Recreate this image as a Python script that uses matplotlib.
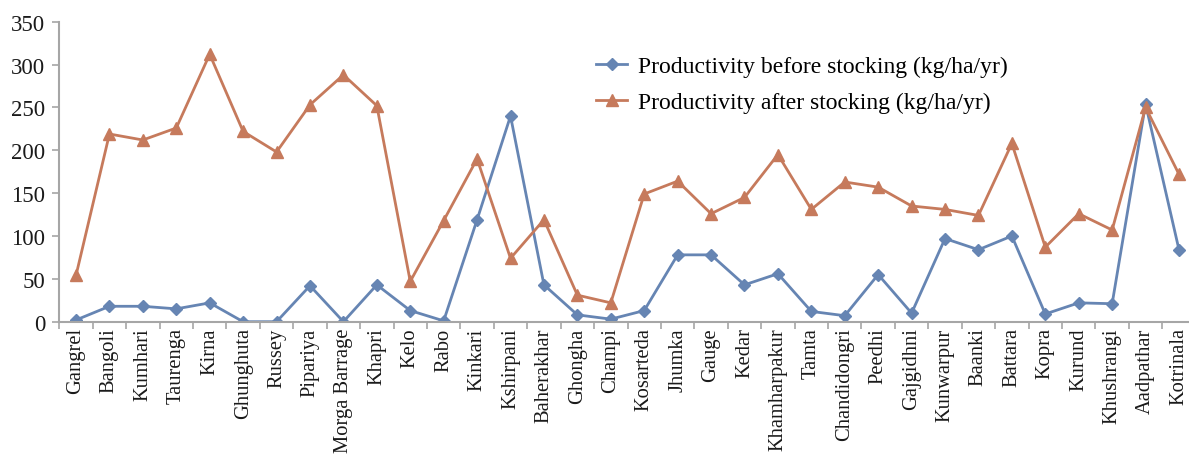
import numpy as np
import matplotlib
matplotlib.use("Agg")
from matplotlib import pyplot as plt

sites = ["Gangrel", "Bangoli", "Kumhari", "Taurenga", "Kirna", "Ghunghuta", "Russey",
         "Pipariya", "Morga Barrage", "Khapri", "Kelo", "Rabo", "Kinkari", "Kshirpani",
         "Baherakhar", "Ghongha", "Champi", "Kosarteda", "Jhumka", "Gauge", "Kedar",
         "Khamharpakur", "Tamta", "Chandidongri", "Peedhi", "Gajgidhni", "Kunwarpur",
         "Baanki", "Battara", "Kopra", "Kurund", "Khushrangi", "Aadpathar", "Kotrinala"]
before = [2, 18, 18, 15, 22, 0, 0, 42, 0, 43, 13, 1, 119, 240, 43, 8, 3, 13, 78, 78,
          43, 56, 12, 7, 55, 10, 97, 84, 100, 9, 22, 21, 254, 84]
after = [54, 219, 212, 226, 312, 222, 198, 253, 288, 252, 47, 118, 190, 74, 119, 31,
         22, 149, 164, 126, 145, 195, 131, 163, 157, 135, 131, 124, 208, 87, 126, 107,
         250, 172]

blue = "#6685B3"
orange = "#C67A5C"
grey = "#A6A6A6"

plt.rcParams["font.family"] = ["Liberation Serif", "DejaVu Serif"]

fig = plt.figure(figsize=(11.89, 4.56), dpi=100)
ax = fig.add_axes([59.3 / 1189, 0.2923, 1136.4 / 1189, 0.6579])

x = np.arange(len(sites))
ax.plot(x, before, color=blue, lw=2.0, marker="D", ms=6, label="Productivity before stocking (kg/ha/yr)")
ax.plot(x, after, color=orange, lw=2.0, marker="^", ms=8, label="Productivity after stocking (kg/ha/yr)")

ax.set_xlim(-0.5, len(sites) - 0.5)
ax.set_ylim(0, 350)
ax.set_yticks(range(0, 351, 50))
ax.tick_params(axis="y", labelsize=16.5, color=grey, length=5, width=1.2, pad=5, labelcolor="#1a1a1a")

ax.set_xticks(x)
ax.set_xticklabels(sites, rotation=90, fontsize=14.8, color="#1a1a1a")
ax.set_xticks(np.arange(-0.5, len(sites), 1), minor=True)
ax.tick_params(axis="x", which="major", length=0, pad=4)
ax.tick_params(axis="x", which="minor", length=5, color=grey, width=1.2)

for s in ["top", "right"]:
    ax.spines[s].set_visible(False)
for s in ["left", "bottom"]:
    ax.spines[s].set_color(grey)
    ax.spines[s].set_linewidth(1.5)

ax.legend(loc="upper left", bbox_to_anchor=(0.454, 0.958), frameon=False, fontsize=17,
          handlelength=1.3, handletextpad=0.45, labelspacing=0.62)

fig.savefig("out.png", dpi=100)
